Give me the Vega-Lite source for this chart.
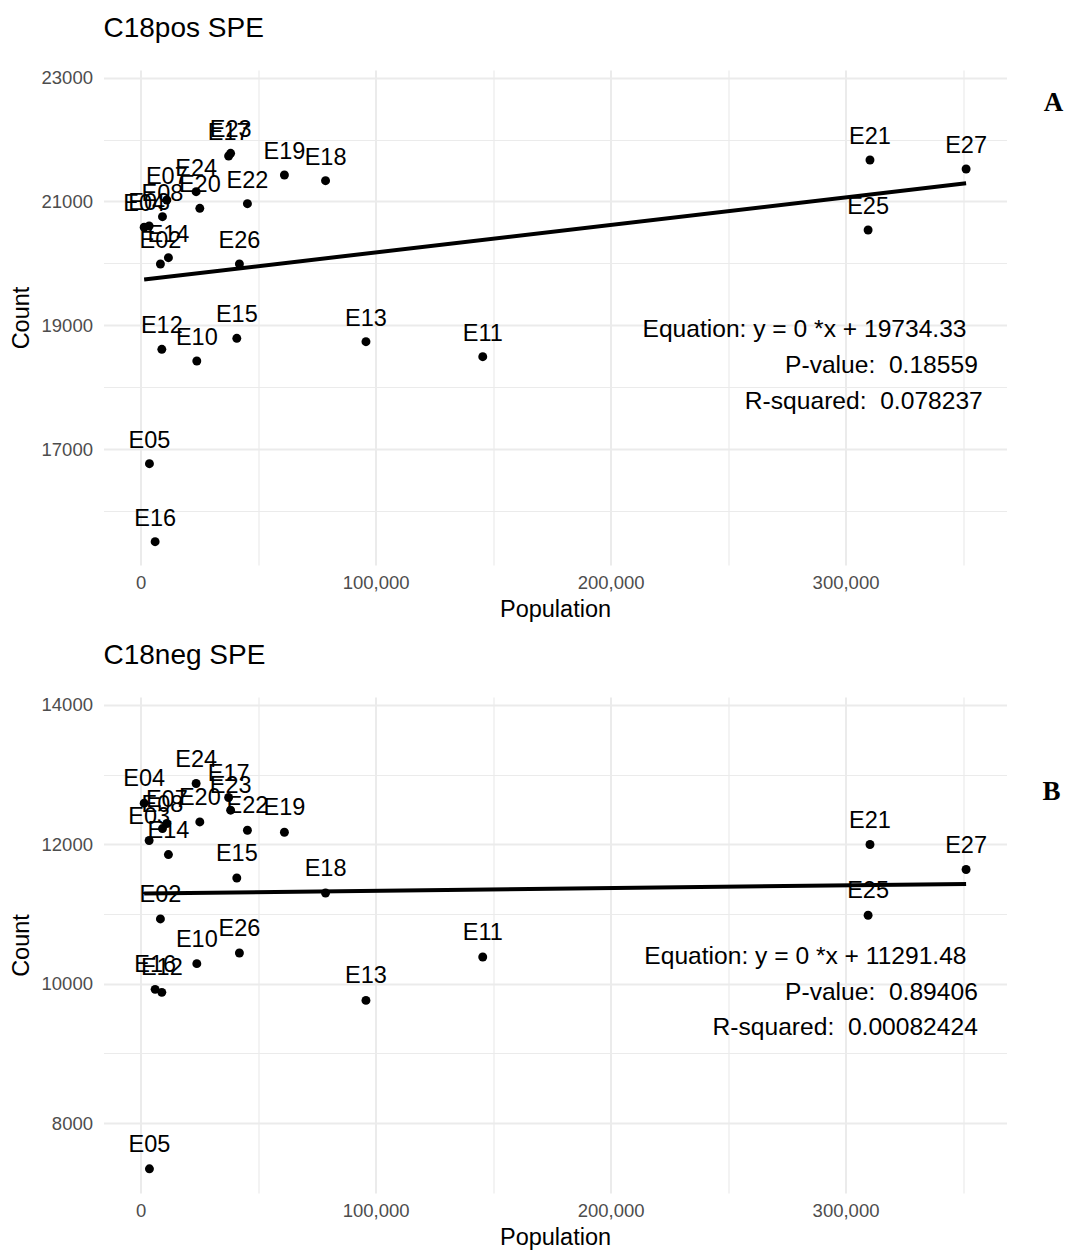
{
  "$schema": "https://vega.github.io/schema/vega-lite/v6.json",
  "background": "white",
  "padding": {"left": 8.5, "top": 14, "right": 5, "bottom": 5},
  "spacing": 20,
  "config": {
    "view": {"stroke": null},
    "font": "Liberation Sans",
    "title": {"anchor": "start", "frame": "group", "fontSize": 28, "fontWeight": "normal", "color": "#000000", "offset": 26, "font": "Liberation Sans"},
    "axis": {"domain": false, "ticks": false, "labelFontSize": 18.5, "labelColor": "#4D4D4D", "labelFont": "Liberation Sans", "titleFont": "Liberation Sans", "titleFontSize": 23.5, "titleFontWeight": "normal", "titleColor": "#000000", "gridColor": "#EBEBEB", "labelOverlap": false, "labelFlush": false}
  },
  "datasets": {
    "pos": [
      {"sample": "E02", "pop": 8430, "count": 19992},
      {"sample": "E03", "pop": 3620, "count": 20605},
      {"sample": "E04", "pop": 1500, "count": 20585},
      {"sample": "E05", "pop": 3750, "count": 16771},
      {"sample": "E07", "pop": 11150, "count": 21024},
      {"sample": "E08", "pop": 9300, "count": 20755},
      {"sample": "E10", "pop": 23910, "count": 18427},
      {"sample": "E11", "pop": 145600, "count": 18497},
      {"sample": "E12", "pop": 9020, "count": 18616},
      {"sample": "E13", "pop": 95900, "count": 18739},
      {"sample": "E14", "pop": 11830, "count": 20094},
      {"sample": "E15", "pop": 40930, "count": 18793},
      {"sample": "E16", "pop": 6170, "count": 15513},
      {"sample": "E17", "pop": 37450, "count": 21734},
      {"sample": "E18", "pop": 78700, "count": 21336},
      {"sample": "E19", "pop": 61190, "count": 21427},
      {"sample": "E20", "pop": 25190, "count": 20890},
      {"sample": "E21", "pop": 310400, "count": 21669},
      {"sample": "E22", "pop": 45450, "count": 20965},
      {"sample": "E23", "pop": 38300, "count": 21777},
      {"sample": "E24", "pop": 23620, "count": 21158},
      {"sample": "E25", "pop": 309600, "count": 20540},
      {"sample": "E26", "pop": 42040, "count": 19992},
      {"sample": "E27", "pop": 351300, "count": 21524}
    ],
    "neg": [
      {"sample": "E02", "pop": 8430, "count": 10928},
      {"sample": "E03", "pop": 3620, "count": 12053},
      {"sample": "E04", "pop": 1500, "count": 12589},
      {"sample": "E05", "pop": 3750, "count": 7344},
      {"sample": "E07", "pop": 11150, "count": 12297},
      {"sample": "E08", "pop": 9300, "count": 12225},
      {"sample": "E10", "pop": 23910, "count": 10287},
      {"sample": "E11", "pop": 145600, "count": 10382},
      {"sample": "E12", "pop": 9020, "count": 9875},
      {"sample": "E13", "pop": 95900, "count": 9760},
      {"sample": "E14", "pop": 11830, "count": 11852},
      {"sample": "E15", "pop": 40930, "count": 11516},
      {"sample": "E16", "pop": 6170, "count": 9918},
      {"sample": "E17", "pop": 37450, "count": 12670},
      {"sample": "E18", "pop": 78700, "count": 11300},
      {"sample": "E19", "pop": 61190, "count": 12172},
      {"sample": "E20", "pop": 25190, "count": 12320},
      {"sample": "E21", "pop": 310400, "count": 11996},
      {"sample": "E22", "pop": 45450, "count": 12201},
      {"sample": "E23", "pop": 38300, "count": 12488},
      {"sample": "E24", "pop": 23620, "count": 12871},
      {"sample": "E25", "pop": 309600, "count": 10981},
      {"sample": "E26", "pop": 42040, "count": 10440},
      {"sample": "E27", "pop": 351300, "count": 11637}
    ],
    "posfit": [
      {"pop": 1500, "count": 19741},
      {"pop": 351300, "count": 21294}
    ],
    "negfit": [
      {"pop": 1500, "count": 11292},
      {"pop": 351300, "count": 11430}
    ]
  },
  "vconcat": [
    {
      "title": "C18pos SPE",
      "width": 903,
      "height": 495,
      "layer": [
        {"data": {"name": "posfit"}, "mark": {"type": "line", "color": "#000000", "strokeWidth": 4},
          "encoding": {
            "x": {"field": "pop", "type": "quantitative", "title": "Population",
              "scale": {"domain": [-15800, 368500], "nice": false, "zero": false},
              "axis": {"values": [0, 50000, 100000, 150000, 200000, 250000, 300000, 350000],
                "labelExpr": "datum.value % 100000 === 0 ? format(datum.value, ',') : ''",
                "labelPadding": 8, "titlePadding": 6,
                "gridWidth": {"condition": {"test": "datum.value % 100000 === 0", "value": 2}, "value": 1.2}}},
            "y": {"field": "count", "type": "quantitative", "title": "Count",
              "scale": {"domain": [15137, 23121], "nice": false, "zero": false},
              "axis": {"values": [16000, 17000, 18000, 19000, 20000, 21000, 22000, 23000],
                "labelExpr": "datum.value % 2000 === 1000 ? format(datum.value, 'd') : ''",
                "labelPadding": 11, "titlePadding": 8,
                "gridWidth": {"condition": {"test": "datum.value % 2000 === 1000", "value": 2}, "value": 1.2}}}
          }},
        {"data": {"name": "pos"}, "mark": {"type": "point", "filled": true, "color": "#000000", "size": 80, "opacity": 1},
          "encoding": {"x": {"field": "pop", "type": "quantitative"}, "y": {"field": "count", "type": "quantitative"}}},
        {"data": {"name": "pos"}, "mark": {"type": "text", "fontSize": 23.5, "dy": -23, "color": "#000000", "baseline": "middle"},
          "encoding": {"x": {"field": "pop", "type": "quantitative"}, "y": {"field": "count", "type": "quantitative"}, "text": {"field": "sample"}}},
        {"data": {"values": [{"label": "Equation: y = 0 *x + 19734.33"}]}, "mark": {"type": "text", "align": "right", "baseline": "middle", "fontSize": 24.6, "color": "#000000"},
          "encoding": {"x": {"datum": 351500, "type": "quantitative"}, "y": {"datum": 18927, "type": "quantitative"}, "text": {"field": "label"}}},
        {"data": {"values": [{"label": "P-value:\u00a0 0.18559"}]}, "mark": {"type": "text", "align": "right", "baseline": "middle", "fontSize": 24.6, "color": "#000000"},
          "encoding": {"x": {"datum": 356300, "type": "quantitative"}, "y": {"datum": 18347, "type": "quantitative"}, "text": {"field": "label"}}},
        {"data": {"values": [{"label": "R-squared:\u00a0 0.078237"}]}, "mark": {"type": "text", "align": "right", "baseline": "middle", "fontSize": 24.6, "color": "#000000"},
          "encoding": {"x": {"datum": 358400, "type": "quantitative"}, "y": {"datum": 17766, "type": "quantitative"}, "text": {"field": "label"}}},
        {"data": {"values": [{"label": "A"}]}, "mark": {"type": "text", "align": "center", "baseline": "middle", "fontSize": 27, "font": "Liberation Serif", "fontWeight": "bold", "color": "#000000"},
          "encoding": {"x": {"datum": 388500, "type": "quantitative"}, "y": {"datum": 22589, "type": "quantitative"}, "text": {"field": "label"}}}
      ]
    },
    {
      "title": "C18neg SPE",
      "width": 903,
      "height": 496,
      "layer": [
        {"data": {"name": "negfit"}, "mark": {"type": "line", "color": "#000000", "strokeWidth": 4},
          "encoding": {
            "x": {"field": "pop", "type": "quantitative", "title": "Population",
              "scale": {"domain": [-15800, 368500], "nice": false, "zero": false},
              "axis": {"values": [0, 50000, 100000, 150000, 200000, 250000, 300000, 350000],
                "labelExpr": "datum.value % 100000 === 0 ? format(datum.value, ',') : ''",
                "labelPadding": 8, "titlePadding": 6,
                "gridWidth": {"condition": {"test": "datum.value % 100000 === 0", "value": 2}, "value": 1.2}}},
            "y": {"field": "count", "type": "quantitative", "title": "Count",
              "scale": {"domain": [6997, 14112], "nice": false, "zero": false},
              "axis": {"values": [8000, 9000, 10000, 11000, 12000, 13000, 14000],
                "labelExpr": "datum.value % 2000 === 0 ? format(datum.value, 'd') : ''",
                "labelPadding": 11, "titlePadding": 8,
                "gridWidth": {"condition": {"test": "datum.value % 2000 === 0", "value": 2}, "value": 1.2}}}
          }},
        {"data": {"name": "neg"}, "mark": {"type": "point", "filled": true, "color": "#000000", "size": 80, "opacity": 1},
          "encoding": {"x": {"field": "pop", "type": "quantitative"}, "y": {"field": "count", "type": "quantitative"}}},
        {"data": {"name": "neg"}, "mark": {"type": "text", "fontSize": 23.5, "dy": -24, "color": "#000000", "baseline": "middle"},
          "encoding": {"x": {"field": "pop", "type": "quantitative"}, "y": {"field": "count", "type": "quantitative"}, "text": {"field": "sample"}}},
        {"data": {"values": [{"label": "Equation: y = 0 *x + 11291.48"}]}, "mark": {"type": "text", "align": "right", "baseline": "middle", "fontSize": 24.6, "color": "#000000"},
          "encoding": {"x": {"datum": 351500, "type": "quantitative"}, "y": {"datum": 10378, "type": "quantitative"}, "text": {"field": "label"}}},
        {"data": {"values": [{"label": "P-value:\u00a0 0.89406"}]}, "mark": {"type": "text", "align": "right", "baseline": "middle", "fontSize": 24.6, "color": "#000000"},
          "encoding": {"x": {"datum": 356300, "type": "quantitative"}, "y": {"datum": 9861, "type": "quantitative"}, "text": {"field": "label"}}},
        {"data": {"values": [{"label": "R-squared:\u00a0 0.00082424"}]}, "mark": {"type": "text", "align": "right", "baseline": "middle", "fontSize": 24.6, "color": "#000000"},
          "encoding": {"x": {"datum": 356300, "type": "quantitative"}, "y": {"datum": 9358, "type": "quantitative"}, "text": {"field": "label"}}},
        {"data": {"values": [{"label": "B"}]}, "mark": {"type": "text", "align": "center", "baseline": "middle", "fontSize": 27, "font": "Liberation Serif", "fontWeight": "bold", "color": "#000000"},
          "encoding": {"x": {"datum": 387700, "type": "quantitative"}, "y": {"datum": 12747, "type": "quantitative"}, "text": {"field": "label"}}}
      ]
    }
  ]
}
